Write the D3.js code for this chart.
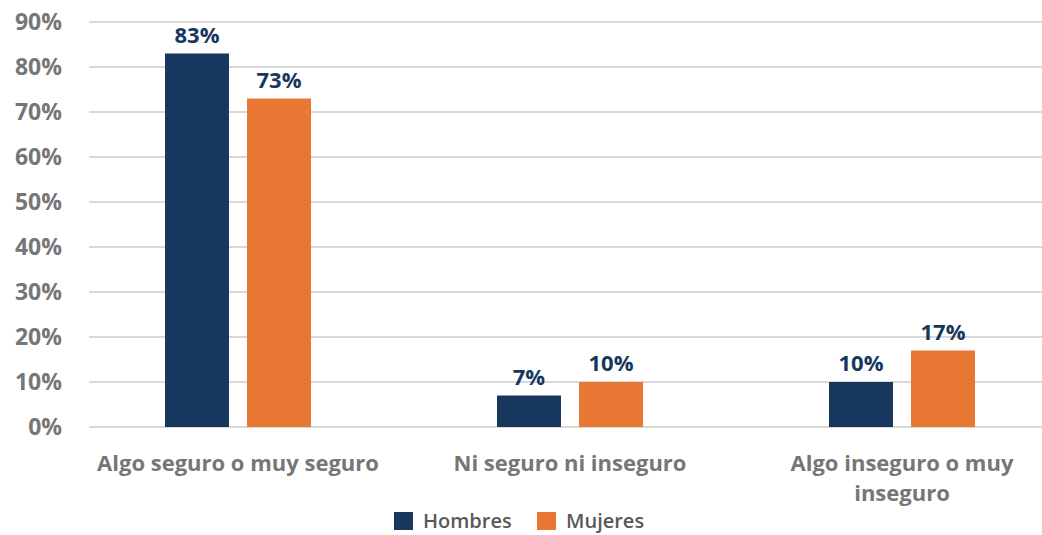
<!DOCTYPE html>
<html lang="es">
<head>
  <meta charset="UTF-8">
  <title>Percepción de seguridad por sexo</title>
  <script src="https://d3js.org/d3.v7.min.js"></script>
  <style>
    body {
      margin: 0;
      background: #fff;
      font-family: "Open Sans", "Noto Sans", sans-serif;
    }
    svg { display: block; }
    .grid line { stroke: #d9d9d9; stroke-width: 2; }
    .tick-label { fill: #767676; font-size: 23px; font-weight: 700; }
    .cat-label { fill: #767676; font-size: 22px; font-weight: 700; }
    .value-label { fill: #17375e; font-size: 22px; font-weight: 700; }
    .legend text { fill: #595959; font-size: 20px; font-weight: 600; }
  </style>
</head>
<body>

<svg width="1042" height="535"></svg>

<script>
  // data
  const categories = [
    ["Algo seguro o muy seguro"],
    ["Ni seguro ni inseguro"],
    ["Algo inseguro o muy", "inseguro"]
  ];
  const seriesNames = ["Hombres", "Mujeres"];
  const hombres = [83, 7, 10];
  const mujeres = [73, 10, 17];
  const yTicks = [0, 10, 20, 30, 40, 50, 60, 70, 80, 90];
  const colors = ["#17375e", "#e87733"];

  const svg = d3.select("svg");

  const gridLeft = 89, gridRight = 1042;
  const y = d3.scaleLinear().domain([0, 90]).range([427, 22]);

  const x = d3.scaleBand()
    .domain(d3.range(categories.length))
    .range([72, 1068]);

  const xSub = d3.scaleBand()
    .domain(seriesNames)
    .range([0, x.bandwidth()])
    .paddingInner(0.22)
    .paddingOuter(1.134);

  // gridlines
  svg.append("g")
    .attr("class", "grid")
    .selectAll("line")
    .data(yTicks)
    .join("line")
    .attr("x1", gridLeft)
    .attr("x2", gridRight)
    .attr("y1", d => y(d))
    .attr("y2", d => y(d));

  // y tick labels
  svg.append("g")
    .selectAll("text")
    .data(yTicks)
    .join("text")
    .attr("class", "tick-label")
    .attr("x", 62)
    .attr("y", d => y(d))
    .attr("dy", "0.35em")
    .attr("text-anchor", "end")
    .text(d => d + "%");

  const series = [hombres, mujeres];
  const bars = [];
  series.forEach((vals, s) => {
    vals.forEach((v, i) => bars.push({ s, i, v, name: seriesNames[s] }));
  });

  svg.append("g")
    .selectAll("rect")
    .data(bars)
    .join("rect")
    .attr("x", d => x(d.i) + xSub(d.name))
    .attr("width", xSub.bandwidth())
    .attr("y", d => y(d.v))
    .attr("height", d => y(0) - y(d.v))
    .attr("fill", d => colors[d.s]);

  svg.append("g")
    .selectAll("text")
    .data(bars)
    .join("text")
    .attr("class", "value-label")
    .attr("x", d => x(d.i) + xSub(d.name) + xSub.bandwidth() / 2)
    .attr("y", d => y(d.v) - 11)
    .attr("text-anchor", "middle")
    .text(d => d.v + "%");

  // category labels
  const cat = svg.append("g")
    .selectAll("text")
    .data(categories)
    .join("text")
    .attr("class", "cat-label")
    .attr("text-anchor", "middle")
    .attr("y", 471);
  cat.selectAll("tspan")
    .data((d, i) => d.map(line => ({ line, i })))
    .join("tspan")
    .attr("x", d => x(d.i) + x.bandwidth() / 2)
    .attr("dy", (d, j) => j === 0 ? 0 : 30)
    .text(d => d.line);

  // legend
  const legend = svg.append("g").attr("class", "legend");
  const legendX = [394, 537];
  seriesNames.forEach((name, s) => {
    legend.append("rect")
      .attr("x", legendX[s])
      .attr("y", 512)
      .attr("width", 19)
      .attr("height", 18)
      .attr("fill", colors[s]);
    legend.append("text")
      .attr("x", legendX[s] + 29)
      .attr("y", 521)
      .attr("dy", "0.35em")
      .text(name);
  });
</script>
</body>
</html>
